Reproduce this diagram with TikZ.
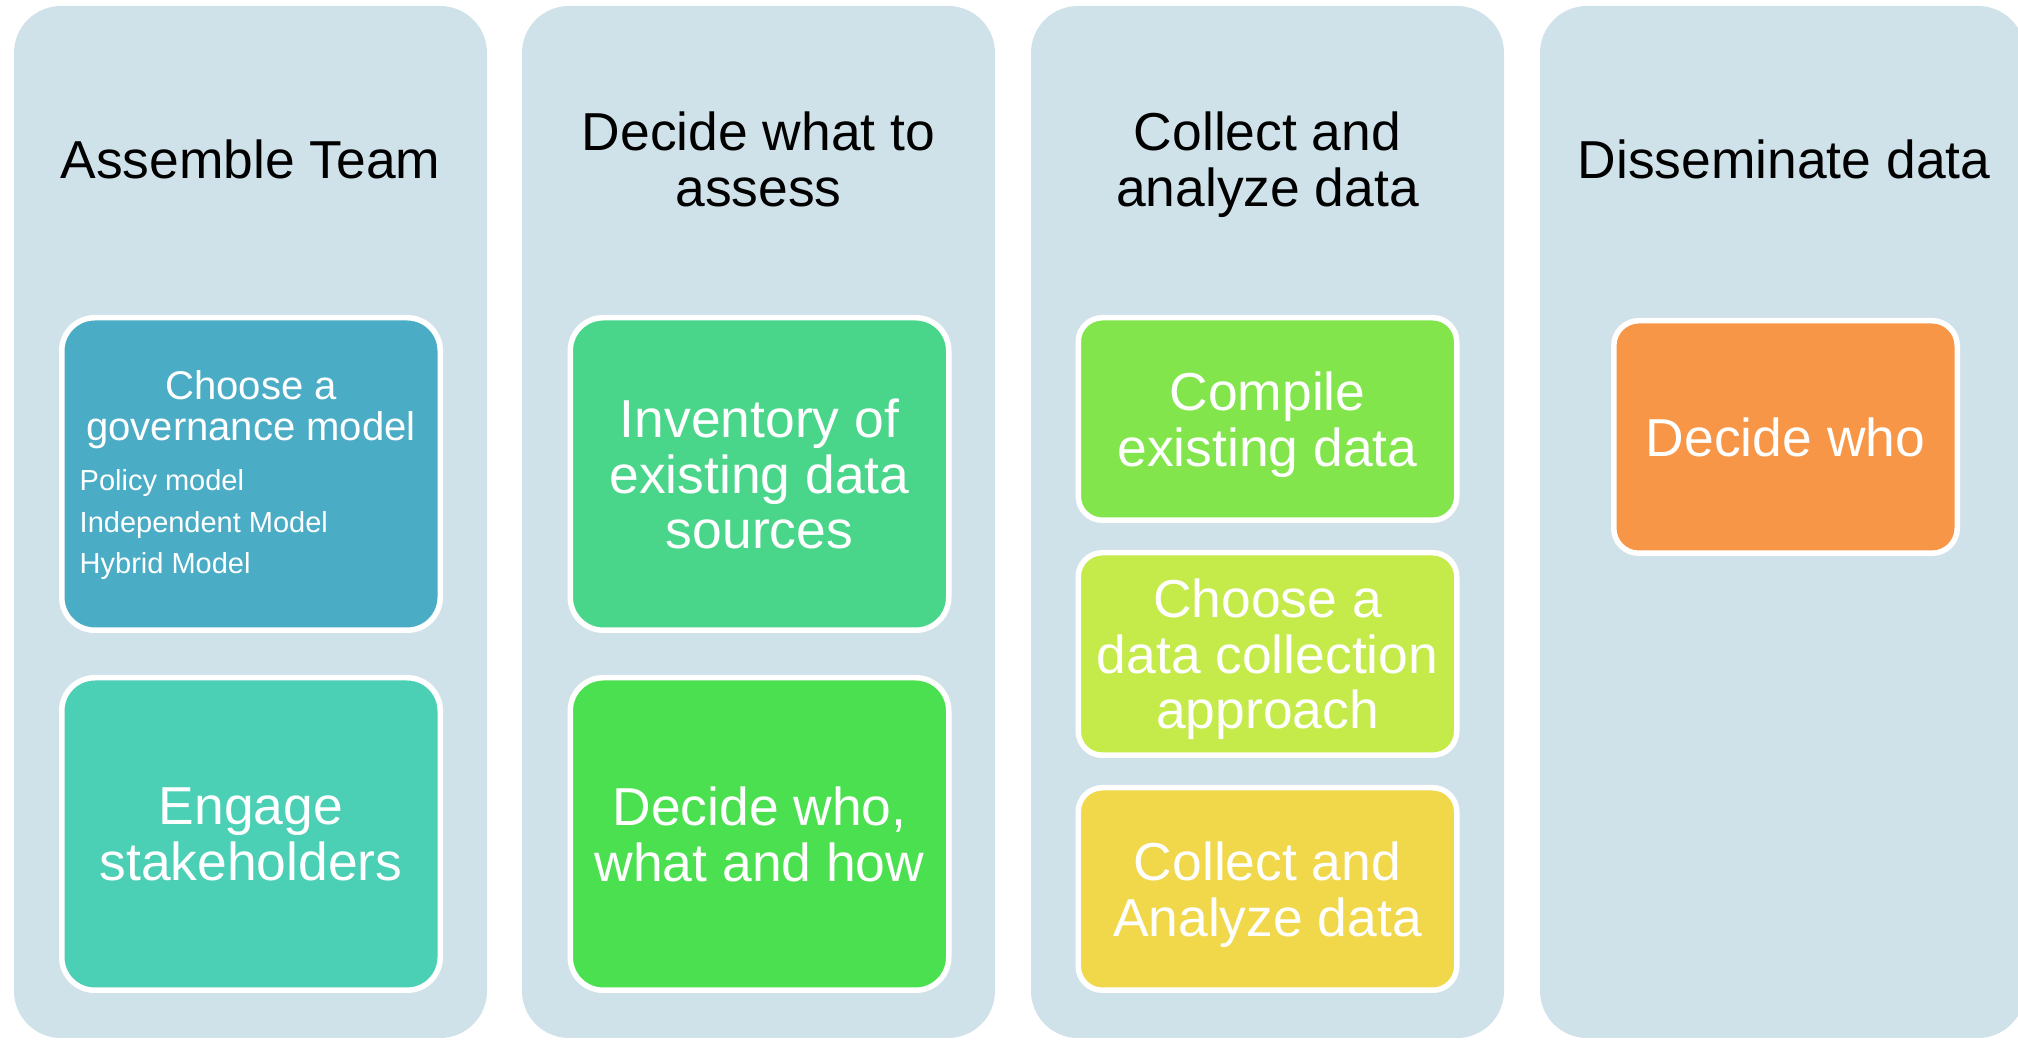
\documentclass[tikz,border=0pt]{standalone}
\usepackage{fontspec}
\setmainfont{Liberation Sans}
\usepackage{xcolor}
\usepackage{tikz}
\usetikzlibrary{positioning}

\definecolor{panelbg}{HTML}{D0E2E9}
\definecolor{teamA}{HTML}{4BACC6}
\definecolor{teamB}{HTML}{4BCFB5}
\definecolor{whatA}{HTML}{4AD68A}
\definecolor{whatB}{HTML}{4BE04F}
\definecolor{collA}{HTML}{82E54B}
\definecolor{collB}{HTML}{C4EB4A}
\definecolor{collC}{HTML}{F0D84A}
\definecolor{share}{HTML}{F79646}

\begin{document}
\begin{tikzpicture}[
    panel/.style={fill=panelbg, rounded corners=0.47cm, minimum width=4.73cm, minimum height=10.32cm, inner sep=0pt},
    head/.style={font=\fontsize{15.2}{15.8}\selectfont, align=center, text depth=0pt, inner sep=0pt},
    task/.style={draw=white, line width=0.55mm, rounded corners=0.33cm, text=white, font=\fontsize{15.2}{15.8}\selectfont, align=center, text depth=0pt, minimum width=3.785cm, minimum height=3.125cm, inner sep=0pt},
    shorttask/.style={task, rounded corners=0.24cm, minimum height=2.025cm}
]
    \useasboundingbox (0,0) rectangle (20.18,10.40);
    \fill[white] (0,0) rectangle (20.18,10.40);
    \clip (0,0) rectangle (20.18,10.40);

    % Columns
    \node[panel] (col1) at (2.505,5.18) {};
    \node[panel] (col2) at (7.585,5.18) {};
    \node[panel] (col3) at (12.675,5.18) {};
    \node[panel, minimum width=4.85cm] (col4) at (17.825,5.18) {};

    \node[head] (head1) at (2.505,8.81) {Assemble Team};
    \node[head] (head2) at (7.585,8.81) {Decide what to\\assess};
    \node[head] (head3) at (12.675,8.81) {Collect and\\analyze data};
    \node[head] (head4) at (17.84,8.81) {Disseminate data};

    % Assemble Team
    \node[task, fill=teamA] (gov) at (2.51,5.66) {};
    \node[text=white, font=\fontsize{11.4}{11.7}\selectfont, align=center, text depth=0pt, inner sep=0pt] (govhead) at (2.51,6.348) {Choose a\\governance model};
    \node[text=white, font=\fontsize{8.25}{11.9}\selectfont, align=left, anchor=north west, inner sep=0pt] (govlist) at (0.79,5.715) {Policy model\\Independent Model\\Hybrid Model};
    \node[task, fill=teamB] (engage) at (2.51,2.06) {Engage\\stakeholders};

    % Decide what to assess
    \node[task, fill=whatA] (inventory) at (7.595,5.66) {Inventory of\\existing data\\sources};
    \node[task, fill=whatB] (whowhat) at (7.595,2.06) {Decide who,\\what and how};

    % Collect and analyze
    \node[shorttask, fill=collA] (compile) at (12.675,6.21) {Compile\\existing data};
    \node[shorttask, fill=collB, below=0.27cm of compile] (approach) {Choose a\\data collection\\approach};
    \node[shorttask, fill=collC, below=0.27cm of approach] (analyze) {Collect and\\Analyze data};

    % Disseminate
    \node[task, fill=share, minimum width=3.435cm, minimum height=2.325cm, rounded corners=0.25cm] (decide) at (17.855,6.03) {Decide who};
\end{tikzpicture}
\end{document}
